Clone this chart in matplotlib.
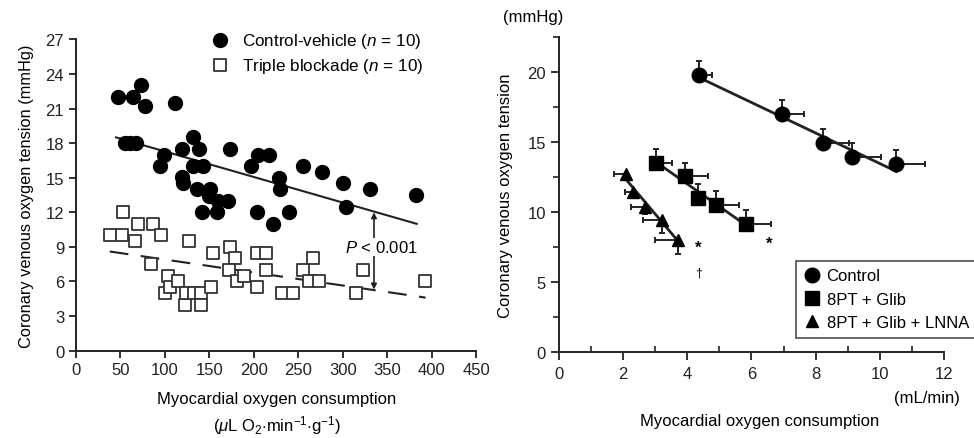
import numpy as np
import matplotlib
matplotlib.use("Agg")
import matplotlib.pyplot as plt
from matplotlib.ticker import MultipleLocator

plt.rcParams['font.family'] = ['Liberation Sans', 'DejaVu Sans']
plt.rcParams['mathtext.fontset'] = 'custom'
plt.rcParams['mathtext.rm'] = 'Liberation Sans'
plt.rcParams['mathtext.it'] = 'Liberation Sans:italic'
plt.rcParams['font.size'] = 11

# ---- left panel data ----
ctrl_x = [47, 64, 73, 78, 111, 55, 61, 67, 94, 99, 119, 131, 138, 119, 120, 132, 143,
          136, 151, 149, 160, 171, 142, 158, 173, 197, 205, 217, 228, 229, 203, 240,
          221, 255, 277, 300, 303, 331, 382]
ctrl_y = [22.0, 22.0, 23.0, 21.2, 21.5, 18.0, 18.0, 18.0, 16.0, 17.0, 17.5, 18.5, 17.5,
          15.1, 14.5, 16.0, 16.0, 14.0, 14.0, 13.4, 13.0, 13.0, 12.0, 12.0, 17.5, 16.0,
          17.0, 17.0, 15.0, 14.0, 12.0, 12.0, 11.0, 16.0, 15.5, 14.5, 12.5, 14.0, 13.5]
triple_x = [38, 52, 53, 70, 66, 87, 96, 84, 104, 100, 106, 115, 122, 124, 133, 140, 141,
            152, 154, 127, 173, 179, 172, 181, 189, 203, 204, 214, 214, 232, 244, 255,
            267, 262, 273, 315, 323, 392]
triple_y = [10.0, 10.0, 12.0, 11.0, 9.5, 11.0, 10.0, 7.5, 6.5, 5.0, 5.5, 6.0, 4.0, 5.0,
            5.0, 5.0, 4.0, 5.5, 8.5, 9.5, 9.0, 8.0, 7.0, 6.0, 6.5, 5.5, 8.5, 8.5, 7.0,
            5.0, 5.0, 7.0, 8.0, 6.0, 6.0, 5.0, 7.0, 6.0]
ctrl_fit_x = [45, 383]
ctrl_fit_y = [18.5, 11.0]
triple_fit_x = [38, 393]
triple_fit_y = [8.6, 4.6]

# ---- right panel data ----
c_x = [4.35, 6.94, 8.24, 9.14, 10.52]
c_y = [19.8, 17.0, 14.96, 13.96, 13.48]
c_xerr = [0.42, 0.7, 0.8, 0.9, 0.9]
c_yerr = [1.0, 1.0, 1.0, 1.0, 0.95]

g_x = [3.02, 3.92, 4.32, 4.91, 5.82]
g_y = [13.55, 12.6, 11.02, 10.55, 9.18]
g_xerr = [0.5, 0.72, 0.0, 0.71, 0.8]
g_yerr = [0.95, 0.9, 1.03, 0.95, 1.0]

l_x = [2.09, 2.32, 2.68, 3.2, 3.72]
l_y = [12.76, 11.45, 10.38, 9.47, 7.99]
l_xerr = [0.38, 0.26, 0.45, 0.57, 0.72]
l_yerr = [0.3, 0.45, 0.5, 0.95, 0.95]

fig = plt.figure(figsize=(9.74, 4.39), dpi=100)

# ================= left panel =================
ax1 = fig.add_axes([0.078, 0.199, 0.411, 0.709])
ax1.scatter(ctrl_x, ctrl_y, s=100, c='black', marker='o', zorder=3,
            label='Control-vehicle ($\\it{n}$ = 10)')
ax1.scatter(triple_x, triple_y, s=85, facecolors='white', edgecolors='#333333',
            linewidths=1.3, marker='s', zorder=3, label='Triple blockade ($\\it{n}$ = 10)')
ax1.plot(ctrl_fit_x, ctrl_fit_y, color='#222222', lw=1.5, zorder=2)
ax1.plot(triple_fit_x, triple_fit_y, color='#222222', lw=1.5, dashes=(9, 6), zorder=2)

ax1.annotate('', xy=(335, 12.0), xytext=(335, 5.3),
             arrowprops=dict(arrowstyle='<|-|>', lw=1.2, color='#222222',
                             mutation_scale=8, shrinkA=0, shrinkB=0), zorder=4)
ax1.text(343, 9.0, '$\\it{P}$ < 0.001', ha='center', va='center', fontsize=12,
         bbox=dict(facecolor='white', edgecolor='none', pad=0.5), zorder=5)

ax1.set_xlim(0, 450)
ax1.set_ylim(0, 27)
ax1.xaxis.set_major_locator(MultipleLocator(50))
ax1.yaxis.set_major_locator(MultipleLocator(3))
ax1.spines['top'].set_visible(False)
ax1.spines['right'].set_visible(False)
for s in ['left', 'bottom']:
    ax1.spines[s].set_linewidth(1.4)
    ax1.spines[s].set_color('#222222')
ax1.tick_params(direction='out', length=5, width=1.3, labelsize=12, colors='#222222')
ax1.set_ylabel('Coronary venous oxygen tension (mmHg)', fontsize=11.8, labelpad=8)
ax1.legend(loc='upper left', bbox_to_anchor=(0.3, 1.05), frameon=False, fontsize=12.3,
           handletextpad=0.3, labelspacing=0.35, borderaxespad=0, scatterpoints=1)

fig.text(0.284, 0.091, 'Myocardial oxygen consumption', ha='center', va='center',
         fontsize=12)
fig.text(0.284, 0.03, '($\\mu$L O$_2$$\\cdot$min$^{-1}$$\\cdot$g$^{-1}$)', ha='center',
         va='center', fontsize=12)

# ================= right panel =================
ax2 = fig.add_axes([0.574, 0.195, 0.395, 0.718])
ax2.plot([c_x[0] + 0.15, c_x[-1]], np.polyval(np.polyfit(c_x, c_y, 1), [c_x[0] + 0.15, c_x[-1]]),
         color='#222222', lw=2, zorder=2)
ax2.plot([g_x[0], g_x[-1] + 0.15], np.polyval(np.polyfit(g_x, g_y, 1), [g_x[0], g_x[-1] + 0.15]),
         color='#222222', lw=2, zorder=2)
ax2.plot([l_x[0], l_x[-1] + 0.1], np.polyval(np.polyfit(l_x, l_y, 1), [l_x[0], l_x[-1] + 0.1]),
         color='#222222', lw=2, zorder=2)

zeros = [0] * 5
ax2.errorbar(c_x, c_y, xerr=[zeros, c_xerr], yerr=[zeros, c_yerr], fmt='o', ms=10.5,
             color='black', ecolor='#222222', elinewidth=1.4, capsize=2.5, capthick=1.4,
             zorder=3, label='Control')
ax2.errorbar(g_x, g_y, xerr=[zeros, g_xerr], yerr=[zeros, g_yerr], fmt='s', ms=9.5,
             color='black', ecolor='#222222', elinewidth=1.4, capsize=2.5, capthick=1.4,
             zorder=3, label='8PT + Glib')
ax2.errorbar(l_x, l_y, xerr=[l_xerr, zeros], yerr=[l_yerr, zeros], fmt='^', ms=9,
             color='black', ecolor='#222222', elinewidth=1.4, capsize=2.5, capthick=1.4,
             zorder=3, label='8PT + Glib + LNNA')

ax2.text(4.34, 7.52, '*', ha='center', va='center', fontsize=12, fontweight='bold')
ax2.text(6.55, 7.76, '*', ha='center', va='center', fontsize=12, fontweight='bold')
ax2.text(4.34, 5.73, '\u2020', ha='center', va='center', fontsize=9)

ax2.set_xlim(0, 12)
ax2.set_ylim(0, 22.5)
ax2.xaxis.set_major_locator(MultipleLocator(2))
ax2.xaxis.set_minor_locator(MultipleLocator(1))
ax2.yaxis.set_major_locator(MultipleLocator(5))
ax2.yaxis.set_minor_locator(MultipleLocator(2.5))
ax2.spines['top'].set_visible(False)
ax2.spines['right'].set_visible(False)
for s in ['left', 'bottom']:
    ax2.spines[s].set_linewidth(1.4)
    ax2.spines[s].set_color('#222222')
ax2.tick_params(which='major', direction='out', length=6, width=1.3, labelsize=12,
                colors='#222222')
ax2.tick_params(axis='y', which='minor', direction='out', length=4, width=1.2, colors='#222222')
ax2.tick_params(axis='x', which='minor', direction='in', length=4, width=1.2, colors='#222222')
ax2.set_ylabel('Coronary venous oxygen tension', fontsize=12, labelpad=10)

handles, labels = ax2.get_legend_handles_labels()
handles = [h[0] for h in handles]
leg = ax2.legend(handles, labels, loc='upper left', bbox_to_anchor=(0.615, 0.29),
                 fontsize=12, frameon=True, fancybox=False, edgecolor='#222222',
                 handletextpad=0.3, labelspacing=0.5, borderpad=0.45, handlelength=1.1,
                 borderaxespad=0)
leg.get_frame().set_linewidth(1.2)
leg.set_clip_on(False)

fig.text(0.516, 0.959, '(mmHg)', ha='left', va='center', fontsize=12)
fig.text(0.986, 0.093, '(mL/min)', ha='right', va='center', fontsize=12)
fig.text(0.78, 0.041, 'Myocardial oxygen consumption', ha='center', va='center',
         fontsize=12)

fig.savefig('out.png', dpi=100)
